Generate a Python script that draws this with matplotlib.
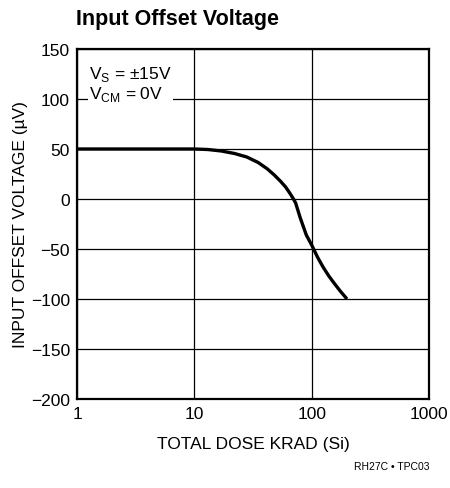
import matplotlib
matplotlib.use("Agg")
import matplotlib.pyplot as plt

# total dose (krad) vs input offset voltage (uV)
dose = [1, 10, 13, 17, 22, 28, 35, 42, 48, 54, 60, 65, 70, 73, 80, 90, 100, 112, 125, 140, 155, 175, 200]
vos = [50, 50, 49.5, 48, 45.5, 42, 36.5, 30, 24, 18, 12, 6, 0, -4, -19, -36, -46, -58, -68, -77, -84, -92, -100]

x_ticks = [1, 10, 100, 1000]
y_ticks = [-200, -150, -100, -50, 0, 50, 100, 150]

plt.rcParams['font.family'] = ['Liberation Sans', 'DejaVu Sans']

fig = plt.figure(figsize=(4.5, 4.89), dpi=100)
ax = fig.add_axes([77 / 450, 89 / 489, 352 / 450, 350 / 489])

ax.plot(dose, vos, color="black", lw=2.4, solid_capstyle="butt",
        solid_joinstyle="round", zorder=3)

ax.set_xscale("log")
ax.set_xlim(1, 1000)
ax.set_ylim(-200, 150)
ax.set_xticks(x_ticks)
ax.set_xticklabels([str(t) for t in x_ticks])
ax.set_yticks(y_ticks)
ax.set_yticklabels([str(t).replace("-", "\u2212") for t in y_ticks])
ax.minorticks_off()
ax.tick_params(length=0, labelsize=12.5, pad=5)
ax.grid(True, color="black", lw=0.9)
for s in ax.spines.values():
    s.set_linewidth(1.6)

ax.set_xlabel("TOTAL DOSE KRAD (Si)", fontsize=12.5, labelpad=11)
ax.set_ylabel("INPUT OFFSET VOLTAGE (\u00b5V)", fontsize=12.5, labelpad=2)

ax.text(1.27, 135, "V$_\\mathregular{S}$ = \u00b115V\nV$_\\mathregular{CM}$ = 0V",
        fontsize=12.5, va="top", ha="left", linespacing=1.05,
        bbox=dict(facecolor="white", edgecolor="none", pad=1), zorder=4)

fig.text(76 / 450, 1 - 19 / 489, "Input Offset Voltage", fontsize=15.5,
         fontweight="bold", va="center", ha="left")
fig.text(429 / 450, 1 - 467 / 489, "RH27C \u2022 TPC03", fontsize=7.5,
         va="center", ha="right")

fig.savefig("out.png", dpi=100)
